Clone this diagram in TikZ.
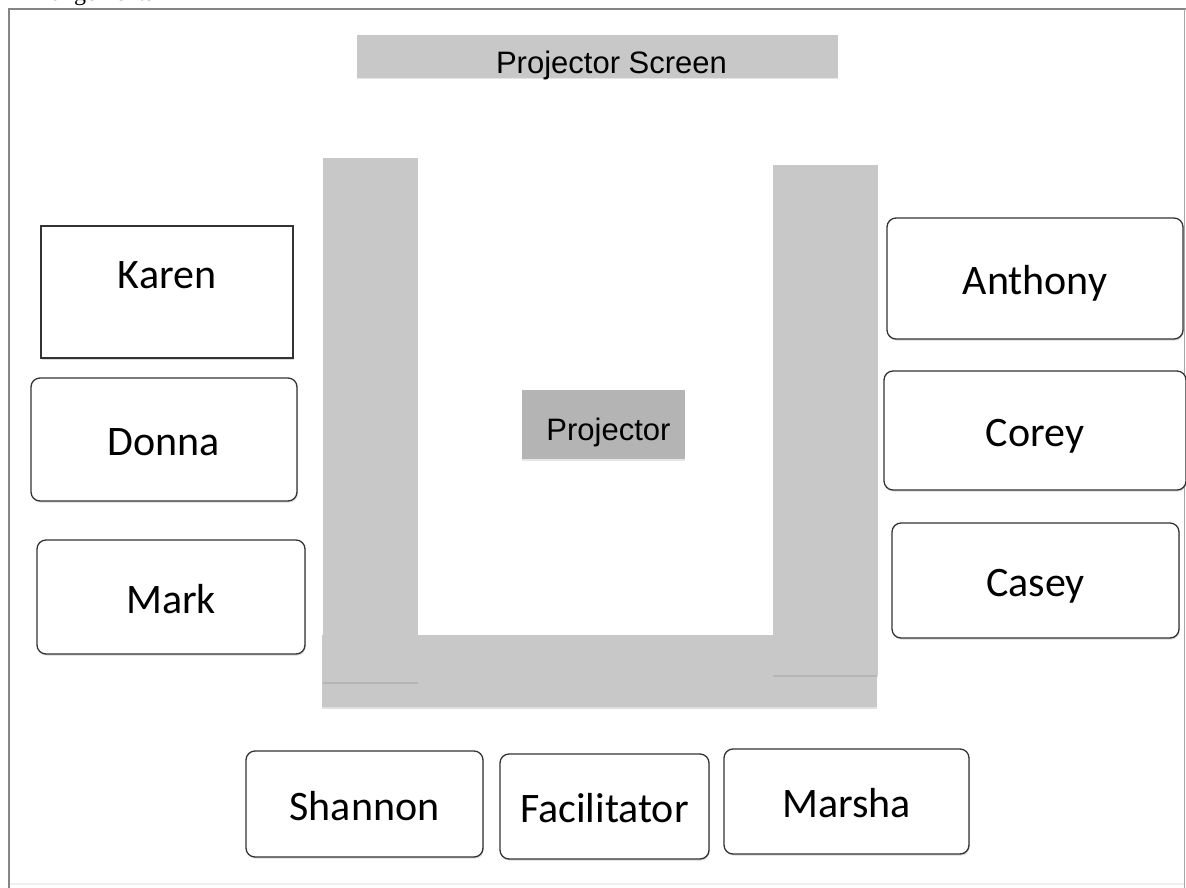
\documentclass[tikz,border=0pt]{standalone}
\usepackage{fontspec}
\setmainfont{Liberation Serif}
\newfontfamily\namefont{Carlito}
\newfontfamily\labelfont{Liberation Sans}
\usetikzlibrary{shadows}
\definecolor{tablegray}{HTML}{C8C8C8}
\definecolor{projgray}{HTML}{B4B4B4}
\definecolor{framegray}{HTML}{858585}
\tikzset{
    seat/.style={draw=black!80, line width=1.3pt, rounded corners=9pt, fill=white,
        inner sep=0pt, outer sep=0pt, text height=32pt, text depth=0pt,
        font=\namefont\fontsize{42}{50}\selectfont,
        drop shadow={shadow xshift=0.8pt, shadow yshift=-1.6pt, opacity=0.3}},
    graybox/.style={fill=tablegray, inner sep=0pt, outer sep=0pt,
        font=\labelfont\fontsize{31}{36}\selectfont,
        drop shadow={shadow xshift=0pt, shadow yshift=-1.5pt, opacity=0.2}},
    tablepart/.style={fill=tablegray, drop shadow={shadow xshift=0pt, shadow yshift=-1.5pt, opacity=0.25}}
}
\begin{document}
\begin{tikzpicture}[x=1pt, y=-1pt]
    \useasboundingbox (0,0) rectangle (1186,888);
    \clip (0,0) rectangle (1186,888);

    % Titulo cortado
    \node[anchor=base west, inner sep=0pt, font=\fontsize{24}{28}\selectfont] (caption) at (18,0.5) {Arrangements};

    % Marco
    \draw[framegray, line width=2.5pt] (9,888) -- (9,9) -- (1186,9);
    \draw[gray!70, line width=1.5pt] (1184.5,9) -- (1184.5,888);
    \draw[black!6, line width=2pt] (10,884) -- (1184,884);

    % Pantalla y proyector
    \node[graybox, minimum width=481pt, minimum height=43pt, text height=34pt, text depth=0pt] (screen) at (597.5,56.5) {\hspace{28pt}Projector Screen};
    \node[graybox, fill=projgray, minimum width=163pt, minimum height=69pt, text height=32pt, text depth=0pt] (projector) at (603.5,424.5) {\hspace{10pt}Projector};

    % Mesas en U
    \fill[tablepart] (322,635) rectangle (877,707);
    \fill[tablepart] (323,158) rectangle (418,682);
    \fill[tablepart] (773,165) rectangle (878,675);

    % Lado izquierdo
    \node[seat, sharp corners, text depth=40pt, minimum width=252pt, minimum height=132pt] (karen) at (167,292) {Karen};
    \node[seat, minimum width=266pt, minimum height=123pt] (donna) at (164,439.5) {Donna};
    \node[seat, minimum width=268pt, minimum height=114pt] (mark) at (171,597) {Mark};

    % Lado derecho
    \node[seat, minimum width=296pt, minimum height=121pt] (anthony) at (1035,278.5) {Anthony};
    \node[seat, minimum width=302pt, minimum height=119pt] (corey) at (1035,430.5) {Corey};
    \node[seat, minimum width=287pt, minimum height=115pt] (casey) at (1035.5,580.5) {Casey};

    % Abajo
    \node[seat, minimum width=237pt, minimum height=106pt] (shannon) at (364.5,804) {Shannon};
    \node[seat, minimum width=209pt, minimum height=105pt] (facilitator) at (604.5,806.5) {Facilitator};
    \node[seat, minimum width=245pt, minimum height=105pt] (marsha) at (846.5,801.5) {Marsha};
\end{tikzpicture}
\end{document}
